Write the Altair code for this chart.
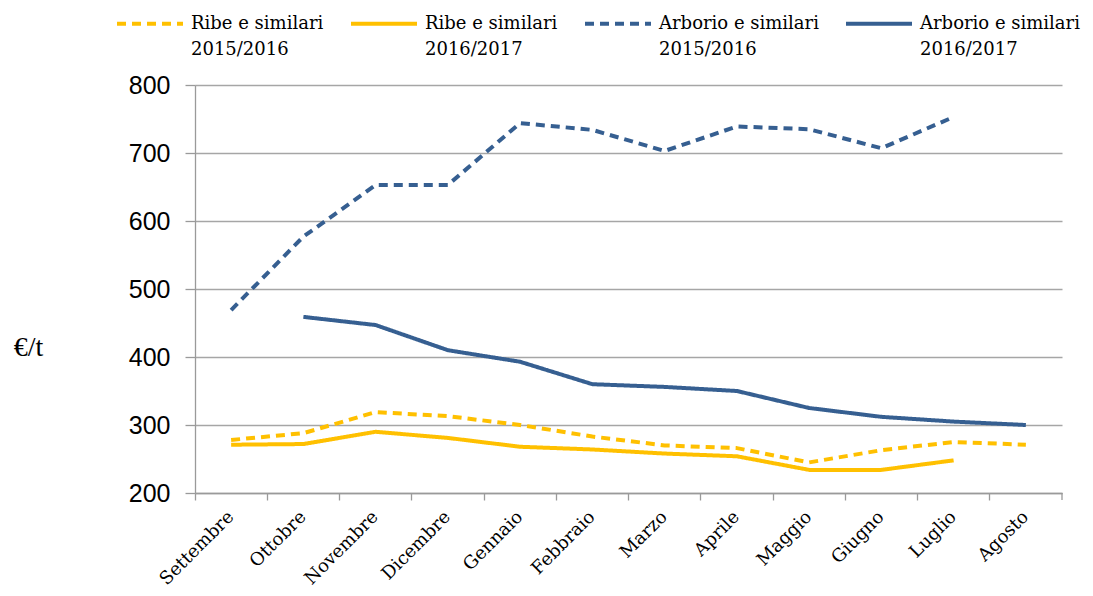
import altair as alt
import pandas as pd

months = ["Settembre", "Ottobre", "Novembre", "Dicembre", "Gennaio", "Febbraio",
          "Marzo", "Aprile", "Maggio", "Giugno", "Luglio", "Agosto"]
series = ["Ribe e similari 2015/2016", "Ribe e similari 2016/2017",
          "Arborio e similari 2015/2016", "Arborio e similari 2016/2017"]
ribe_1516 = [278, 288, 319, 313, 300, 283, 270, 266, 245, 263, 275, 271]
ribe_1617 = [271, 272, 290, 281, 268, 264, 258, 254, 234, 234, 248, None]
arborio_1516 = [469, 577, 653, 653, 744, 734, 703, 739, 735, 707, 753, None]
arborio_1617 = [None, 459, 447, 410, 393, 360, 356, 350, 325, 312, 305, 300]
y_ticks = [200, 300, 400, 500, 600, 700, 800]
colors = ["#FFC000", "#FFC000", "#365F91", "#365F91"]
dashes = [[9, 6], [1, 0], [9, 6], [1, 0]]

rows = []
for name, vals in zip(series, [ribe_1516, ribe_1617, arborio_1516, arborio_1617]):
    for m, v in zip(months, vals):
        if v is not None:
            rows.append({"mese": m, "serie": name, "valore": v})
df = pd.DataFrame(rows)
last_month = pd.DataFrame({"mese": [months[-1]]})

SERIF = "Liberation Serif"
CAMB = "DejaVu Serif"
SANS = "Liberation Sans"
GRAY = "#9a9a9a"

x_enc = alt.X("mese:N", sort=months,
              scale=alt.Scale(type="band", domain=months, paddingInner=0, paddingOuter=0),
              axis=alt.Axis(title=None, bandPosition=0, labelAngle=-45,
                            labelAlign="right", labelBaseline="middle", labelPadding=14,
                            labelFont=CAMB, labelFontSize=18, labelColor="#000",
                            domainColor=GRAY, domainWidth=1.3,
                            tickColor=GRAY, tickSize=7, tickWidth=1.3,
                            grid=False))

lines = alt.Chart(df).mark_line(strokeWidth=4, strokeJoin="round").encode(
    x=x_enc,
    y=alt.Y("valore:Q", scale=alt.Scale(domain=[200, 800], nice=False, zero=False),
            axis=alt.Axis(values=y_ticks, title="€/t", titleAngle=0, titleAlign="center",
                          titleBaseline="middle", titleX=-167, titleY=262,
                          titleFont=SERIF, titleFontSize=28, titleFontWeight="normal",
                          titleColor="#000",
                          labelFont=SANS, labelFontSize=25, labelColor="#000",
                          labelPadding=15, domainColor=GRAY, domainWidth=1.3,
                          tickColor=GRAY, tickSize=10, tickWidth=1.3,
                          gridColor="#a6a6a6", gridWidth=1.3)),
    color=alt.Color("serie:N", scale=alt.Scale(domain=series, range=colors),
                    legend=alt.Legend(title=None, orient="none", legendX=-80, legendY=-83,
                                      direction="horizontal", columns=4,
                                      symbolType="M-1,0.8L5,0.8", symbolSize=484,
                                      symbolStrokeWidth=4, labelFont=CAMB,
                                      labelFontSize=18, labelColor="#000",
                                      labelLimit=300, columnPadding=19,
                                      labelOffset=50, labelBaseline="top",
                                      labelExpr="[slice(datum.label, 0, -10), slice(datum.label, -9)]")),
    strokeDash=alt.StrokeDash("serie:N", scale=alt.Scale(domain=series, range=dashes),
                              legend=None),
)

end_tick = alt.Chart(last_month).mark_rule(color=GRAY, strokeWidth=1.3).encode(
    x=alt.X("mese:N", sort=months, bandPosition=1),
    y=alt.value(408), y2=alt.value(415),
)

chart = alt.layer(lines, end_tick).properties(
    width=867, height=408,
    autosize=alt.AutoSizeParams(type="none"),
    padding={"left": 187, "top": 77, "right": 23, "bottom": 95},
).configure(
    view={"stroke": "transparent"},
    style={"guide-label": {"lineHeight": 26}},
)

chart.save("out.html", embed_options={"renderer": "svg", "actions": False})
